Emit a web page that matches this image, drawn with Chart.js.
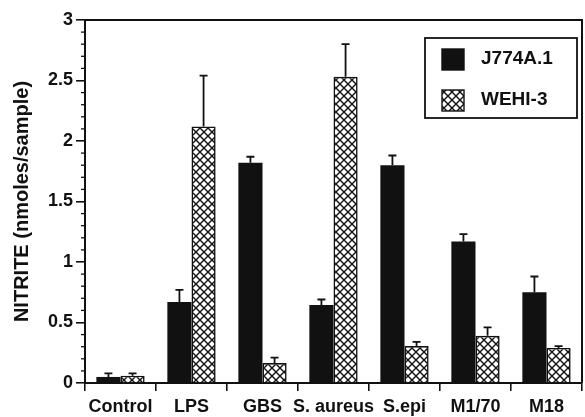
<!DOCTYPE html>
<html>
<head>
<meta charset="utf-8">
<script src="https://cdn.jsdelivr.net/npm/chart.js@4.4.1/dist/chart.umd.min.js"></script>
<style>
  html, body { margin: 0; padding: 0; background: #fff; }
  #wrap { width: 585px; height: 417px; }
</style>
</head>
<body>
<div id="wrap"><canvas id="chart" width="585" height="417"></canvas></div>
<script>
// dados
const categories = ['Control', 'LPS', 'GBS', 'S. aureus', 'S.epi', 'M1/70', 'M18'];
const j774 = [0.05, 0.67, 1.82, 0.645, 1.80, 1.17, 0.75];
const j774Err = [0.03, 0.10, 0.05, 0.045, 0.08, 0.06, 0.13];
const wehi = [0.06, 2.12, 0.165, 2.53, 0.305, 0.39, 0.29];
const wehiErr = [0.02, 0.42, 0.045, 0.27, 0.035, 0.07, 0.015];
const yTicks = [0, 0.5, 1, 1.5, 2, 2.5, 3];

const INK = '#111';
const FONT = "'Liberation Sans', Arial, sans-serif";

// padrão quadriculado diagonal
function makeHatch() {
  const c = document.createElement('canvas');
  c.width = 8; c.height = 8;
  const g = c.getContext('2d');
  g.fillStyle = '#fff';
  g.fillRect(0, 0, 8, 8);
  g.strokeStyle = INK;
  g.lineWidth = 1.4;
  g.beginPath();
  g.moveTo(-1, -1); g.lineTo(9, 9);
  g.moveTo(-1, 9); g.lineTo(9, -1);
  g.stroke();
  return g.createPattern(c, 'repeat');
}
const hatch = makeHatch();

// barras de erro (só para cima), moldura, ticks menores e legenda
const extras = {
  id: 'extras',
  afterDatasetsDraw(chart) {
    const ctx = chart.ctx;
    const y = chart.scales.y;
    const area = chart.chartArea;
    ctx.save();
    ctx.strokeStyle = INK;
    ctx.lineWidth = 1.8;
    chart.data.datasets.forEach((ds, i) => {
      const meta = chart.getDatasetMeta(i);
      meta.data.forEach((bar, j) => {
        const top = y.getPixelForValue(ds.data[j] + ds.errors[j]);
        ctx.beginPath();
        ctx.moveTo(bar.x, bar.y);
        ctx.lineTo(bar.x, top);
        ctx.moveTo(bar.x - 4, top);
        ctx.lineTo(bar.x + 4, top);
        ctx.stroke();
      });
    });

    // moldura superior e direita
    ctx.lineWidth = 2;
    ctx.beginPath();
    ctx.moveTo(area.left, area.top);
    ctx.lineTo(area.right, area.top);
    ctx.lineTo(area.right, area.bottom);
    ctx.stroke();

    // ticks menores a cada 0.1
    ctx.lineWidth = 1.3;
    for (let k = 0; k <= 30; k++) {
      if (k % 5 === 0) continue;
      const py = y.getPixelForValue(k / 10);
      ctx.beginPath();
      ctx.moveTo(area.left - 4, py);
      ctx.lineTo(area.left, py);
      ctx.stroke();
    }

    // legenda
    const lx = 425, ly = 38, lw = 152, lh = 80;
    ctx.lineWidth = 1.8;
    ctx.fillStyle = '#fff';
    ctx.fillRect(lx, ly, lw, lh);
    ctx.strokeRect(lx, ly, lw, lh);
    ctx.font = 'bold 19px ' + FONT;
    ctx.textBaseline = 'middle';
    chart.data.datasets.forEach((ds, i) => {
      const cy = ly + 21 + i * 41;
      ctx.fillStyle = ds.backgroundColor;
      ctx.fillRect(lx + 17, cy - 10, 22, 21);
      ctx.lineWidth = 1.4;
      ctx.strokeRect(lx + 17, cy - 10, 22, 21);
      ctx.fillStyle = INK;
      ctx.fillText(ds.label, lx + 56, cy);
    });
    ctx.restore();
  }
};

new Chart(document.getElementById('chart'), {
  type: 'bar',
  data: {
    labels: categories,
    datasets: [
      {
        label: 'J774A.1',
        data: j774,
        errors: j774Err,
        backgroundColor: INK,
        borderColor: INK,
        borderWidth: 0
      },
      {
        label: 'WEHI-3',
        data: wehi,
        errors: wehiErr,
        backgroundColor: hatch,
        borderColor: INK,
        borderWidth: 1.6
      }
    ]
  },
  options: {
    responsive: false,
    animation: false,
    layout: { padding: { top: 20, right: 3, left: 0, bottom: 0 } },
    categoryPercentage: 0.68,
    barPercentage: 1,
    scales: {
      x: {
        grid: { offset: true, drawOnChartArea: false, tickLength: 8, color: INK, lineWidth: 1.6 },
        border: { color: INK, width: 2 },
        ticks: { color: INK, font: { family: FONT, size: 18, weight: 'bold' }, padding: 5, maxRotation: 0, autoSkip: false },
        afterFit: s => { s.height = 34; }
      },
      y: {
        min: 0,
        max: 3,
        afterBuildTicks: s => { s.ticks = yTicks.map(v => ({ value: v })); },
        grid: { drawOnChartArea: false, tickLength: 9, color: INK, lineWidth: 1.6 },
        border: { color: INK, width: 2 },
        ticks: { color: INK, font: { family: FONT, size: 18, weight: 'bold' }, padding: 3, callback: v => String(v) },
        title: { display: true, text: 'NITRITE (nmoles/sample)', color: INK, font: { family: FONT, size: 20, weight: 'bold' }, padding: { top: 10, bottom: 4 } },
        afterFit: s => { s.width = 85; }
      }
    },
    plugins: {
      legend: { display: false },
      tooltip: { enabled: false }
    }
  },
  plugins: [extras]
});
</script>
</body>
</html>
